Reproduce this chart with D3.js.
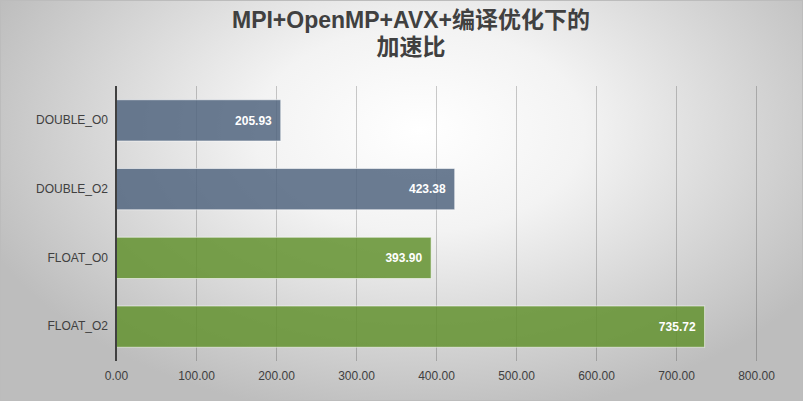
<!DOCTYPE html>
<html><head><meta charset="utf-8">
<script src="https://cdn.jsdelivr.net/npm/d3@7"></script>
<style>html,body{margin:0;padding:0;overflow:hidden;background:#fff}</style>
</head><body>
<svg id="chart" width="803" height="401"></svg>
<script>
const categories = ["DOUBLE_O0", "DOUBLE_O2", "FLOAT_O0", "FLOAT_O2"];
const values = [205.93, 423.38, 393.90, 735.72];
const barColors = ["#51657F", "#51657F", "#63922F", "#63922F"];
const tickValues = [0, 100, 200, 300, 400, 500, 600, 700, 800];
const titleLines = ["MPI+OpenMP+AVX+编译优化下的", "加速比"];

const W = 803, H = 401;
const svg = d3.select("#chart");
const defs = svg.append("defs");
const rg = defs.append("radialGradient").attr("id", "bg")
  .attr("gradientUnits", "userSpaceOnUse")
  .attr("cx", 420).attr("cy", 130).attr("r", 470)
  .attr("gradientTransform", "translate(420,130) scale(1,0.62) translate(-420,-130)");
rg.append("stop").attr("offset", "0%").attr("stop-color", "#ffffff");
rg.append("stop").attr("offset", "35%").attr("stop-color", "#f3f3f3");
rg.append("stop").attr("offset", "100%").attr("stop-color", "#bdbdbd");
svg.append("rect").attr("x", 0).attr("y", 0).attr("width", W).attr("height", H).attr("fill", "url(#bg)");
svg.append("rect").attr("x", 0.5).attr("y", 0.5).attr("width", W - 1).attr("height", H - 1)
  .attr("fill", "none").attr("stroke", "#bcbcbc").attr("stroke-width", 1);

const m = {left: 116, right: 756, top: 86, bottom: 361};
const x = d3.scaleLinear().domain([0, 800]).range([m.left, m.right]);
const y = d3.scaleBand().domain(categories).range([m.top, m.bottom]).paddingInner(0.4).paddingOuter(0.2);

// gridlines
svg.append("g").selectAll("line").data(tickValues.slice(1)).join("line")
  .attr("x1", d => Math.round(x(d)) + 0.5).attr("x2", d => Math.round(x(d)) + 0.5)
  .attr("y1", m.top).attr("y2", m.bottom)
  .attr("stroke", "rgba(0,0,0,0.2)").attr("stroke-width", 1);

// bars
svg.append("g").selectAll("rect").data(categories).join("rect")
  .attr("x", x(0)).attr("y", d => y(d))
  .attr("width", (d, i) => x(values[i]) - x(0)).attr("height", y.bandwidth())
  .attr("fill", (d, i) => barColors[i]).attr("fill-opacity", 0.85)
  .attr("stroke", "rgba(255,255,255,0.55)").attr("stroke-width", 1);

// value labels
svg.append("g").selectAll("text").data(categories).join("text")
  .attr("x", (d, i) => x(values[i]) - 9).attr("y", d => y(d) + y.bandwidth() / 2)
  .attr("dy", "0.35em").attr("text-anchor", "end")
  .attr("font-family", "Liberation Sans, Arial, sans-serif").attr("font-size", 12).attr("font-weight", "bold")
  .attr("fill", "#ffffff")
  .text((d, i) => values[i].toFixed(2));

// x axis
const xAxis = d3.axisBottom(x).tickValues(tickValues).tickFormat(d => d.toFixed(2)).tickSize(0).tickPadding(10);
const gx = svg.append("g").attr("transform", `translate(0,${m.bottom})`).call(xAxis);
gx.select(".domain").remove();
gx.selectAll("text").attr("font-family", "Liberation Sans, Arial, sans-serif").attr("font-size", 12).attr("fill", "#404040");

// y axis
const yAxis = d3.axisLeft(y).tickSize(0).tickPadding(8);
const gy = svg.append("g").attr("transform", `translate(${m.left},0)`).call(yAxis);
gy.select(".domain").remove();
gy.selectAll("text").attr("font-family", "Liberation Sans, Arial, sans-serif").attr("font-size", 12).attr("fill", "#404040");
svg.append("line").attr("x1", m.left).attr("x2", m.left).attr("y1", m.top).attr("y2", m.bottom)
  .attr("stroke", "#404040").attr("stroke-width", 2);

// title
const title = svg.append("text").attr("text-anchor", "middle")
  .attr("font-family", "Liberation Sans, 'Noto Sans CJK SC', sans-serif").attr("font-size", 23).attr("font-weight", "bold")
  .attr("fill", "#404040");
titleLines.forEach((t, i) => {
  title.append("tspan").attr("x", 411).attr("y", 28 + i * 27).text(t);
});
</script>
</body></html>
